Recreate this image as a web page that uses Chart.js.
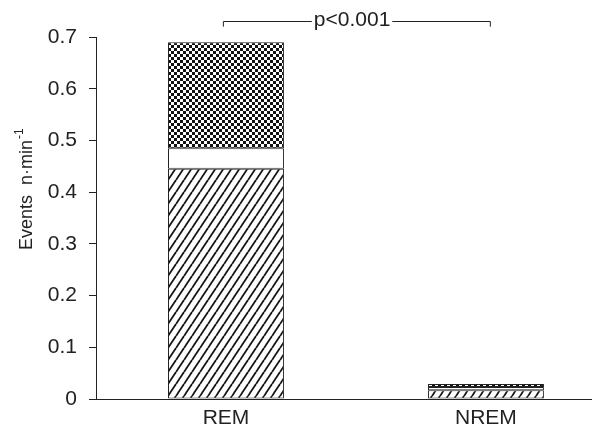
<!DOCTYPE html>
<html>
<head>
<meta charset="utf-8">
<script src="https://cdn.jsdelivr.net/npm/chart.js@4/dist/chart.umd.min.js"></script>
<style>
  html, body { margin: 0; padding: 0; background: #fff; }
</style>
</head>
<body>
<canvas id="canvas-chart" width="592" height="432"></canvas>
<script>
const categories = ["REM", "NREM"];
const hatchedValues = [0.445, 0.017];
const blankValues = [0.040, 0.006];
const dottedValues = [0.205, 0.006];
const yTicks = [0, 0.1, 0.2, 0.3, 0.4, 0.5, 0.6, 0.7];
const pLabel = "p<0.001";

const canvas = document.getElementById("canvas-chart");
const ink = "#222";
const fontFamily = "'Liberation Sans', Arial, sans-serif";

// diagonal hatch
function makeHatch() {
  const c = document.createElement("canvas");
  c.width = 8;
  c.height = 12;
  const g = c.getContext("2d");
  g.fillStyle = "#fff";
  g.fillRect(0, 0, 8, 12);
  g.strokeStyle = "#111";
  g.lineWidth = 1.8;
  for (const off of [-8, 0, 8]) {
    g.beginPath();
    g.moveTo(off, 12);
    g.lineTo(off + 8, 0);
    g.stroke();
  }
  return g.createPattern(c, "repeat");
}

// small checker
function makeChecker() {
  const c = document.createElement("canvas");
  c.width = 6;
  c.height = 6;
  const g = c.getContext("2d");
  g.fillStyle = "#fff";
  g.fillRect(0, 0, 6, 6);
  g.fillStyle = "#111";
  g.fillRect(0, 0, 3, 3);
  g.fillRect(3, 3, 3, 3);
  return g.createPattern(c, "repeat");
}

const toPoints = (vals) => vals.map((v, i) => ({ x: i, y: v }));

const extrasPlugin = {
  id: "extras",
  afterDraw(chart) {
    const ctx = chart.ctx;
    const xs = chart.scales.x;
    const ys = chart.scales.y;
    ctx.save();
    ctx.fillStyle = ink;
    ctx.strokeStyle = ink;
    ctx.lineWidth = 1;

    // y title with superscript
    ctx.save();
    ctx.translate(32, 250);
    ctx.rotate(-Math.PI / 2);
    ctx.font = "18px " + fontFamily;
    ctx.textAlign = "left";
    ctx.textBaseline = "alphabetic";
    const main = "Events  n\u00b7min";
    ctx.fillText(main, 0, 0);
    const w = ctx.measureText(main).width;
    ctx.font = "12px " + fontFamily;
    ctx.fillText("-1", w + 1, -9);
    ctx.restore();

    // significance bracket
    const x1 = xs.getPixelForValue(-0.012);
    const x2 = xs.getPixelForValue(1.015);
    const yl = Math.round(ys.getPixelForValue(0.73)) + 0.5;
    const yt = ys.getPixelForValue(0.72);
    ctx.font = "21px " + fontFamily;
    const tw = ctx.measureText(pLabel).width;
    const xm = xs.getPixelForValue(0.485);
    ctx.beginPath();
    ctx.moveTo(x1 + 0.5, yt);
    ctx.lineTo(x1 + 0.5, yl);
    ctx.lineTo(xm - tw / 2 - 2, yl);
    ctx.moveTo(xm + tw / 2 + 2, yl);
    ctx.lineTo(x2 + 0.5, yl);
    ctx.lineTo(x2 + 0.5, yt);
    ctx.stroke();
    ctx.textAlign = "center";
    ctx.textBaseline = "middle";
    ctx.fillText(pLabel, xm, yl - 1);
    ctx.restore();
  },
};

const barStyle = {
  borderColor: ink,
  borderWidth: 1,
  borderSkipped: false,
  barPercentage: 0.446,
  categoryPercentage: 1,
};

const chart = new Chart(canvas, {
  type: "bar",
  data: {
    datasets: [
      { label: "hatched", data: toPoints(hatchedValues), backgroundColor: makeHatch(), ...barStyle },
      { label: "blank", data: toPoints(blankValues), backgroundColor: "#fff", ...barStyle },
      { label: "dotted", data: toPoints(dottedValues), backgroundColor: makeChecker(), ...barStyle },
    ],
  },
  options: {
    responsive: false,
    animation: false,
    devicePixelRatio: 1,
    layout: { padding: { top: 37, right: 0, bottom: 0, left: 0 } },
    plugins: {
      legend: { display: false },
      tooltip: { enabled: false },
    },
    scales: {
      x: {
        type: "linear",
        stacked: true,
        offset: false,
        min: -0.5,
        max: 1.408,
        afterBuildTicks(scale) {
          scale.ticks = categories.map((c, i) => ({ value: i }));
        },
        afterFit(scale) {
          scale.height = 33;
        },
        grid: { display: true, drawOnChartArea: false, drawTicks: false },
        border: { display: true, color: ink, width: 1 },
        ticks: {
          color: ink,
          padding: 7,
          font: { family: fontFamily, size: 21 },
          callback: (v) => categories[v] ?? "",
        },
      },
      y: {
        stacked: true,
        min: 0,
        max: 0.7,
        afterBuildTicks(scale) {
          scale.ticks = yTicks.map((v) => ({ value: v }));
        },
        afterFit(scale) {
          scale.width = 96;
        },
        grid: { drawOnChartArea: false, drawTicks: true, tickLength: 7, color: ink },
        border: { display: true, color: ink, width: 1 },
        ticks: {
          color: ink,
          padding: 12,
          font: { family: fontFamily, size: 21 },
          callback: (v) => String(v),
        },
      },
    },
  },
  plugins: [extrasPlugin],
});
</script>
</body>
</html>
